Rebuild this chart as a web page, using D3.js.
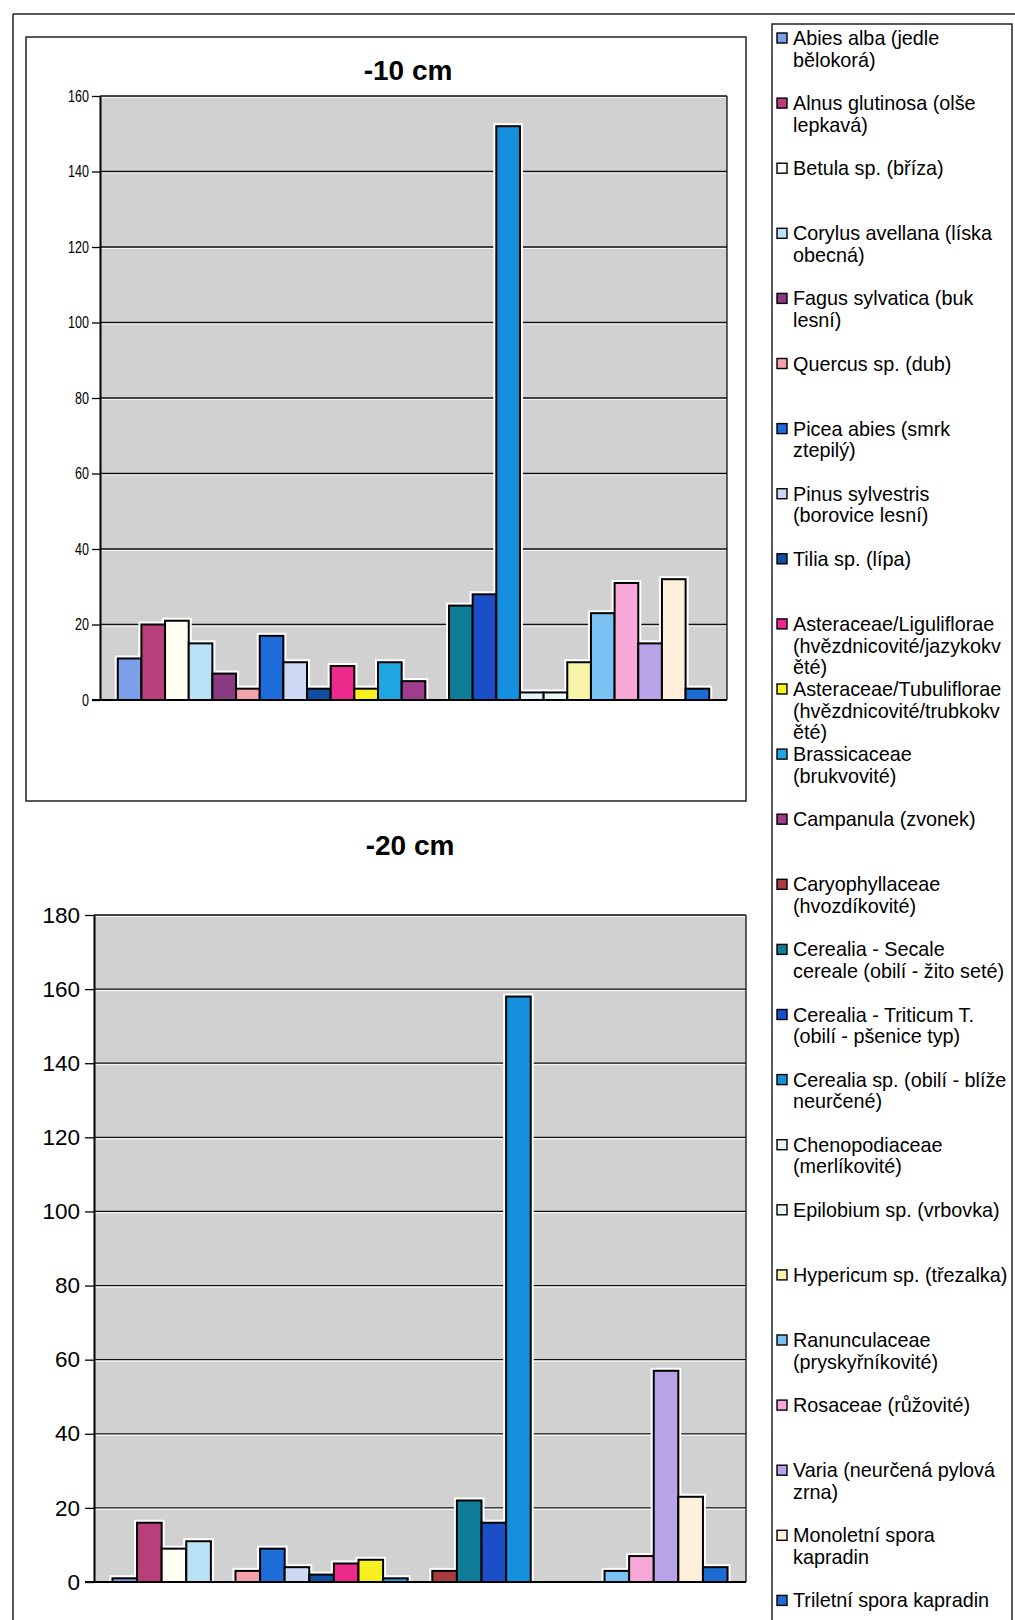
<!DOCTYPE html>
<html><head><meta charset="utf-8">
<script src="https://cdn.jsdelivr.net/npm/d3@7"></script>
<style>
html,body{margin:0;padding:0;background:#fff;}
svg{display:block;}
text{font-family:"Liberation Sans",Arial,sans-serif;}
</style></head>
<body>
<svg id="c" width="1015" height="1620"></svg>
<script>
// ---- data ----
const seriesNames = [
  "Abies alba (jedle\nbělokorá)",
  "Alnus glutinosa (olše\nlepkavá)",
  "Betula sp. (bříza)",
  "Corylus avellana (líska\nobecná)",
  "Fagus sylvatica (buk\nlesní)",
  "Quercus sp. (dub)",
  "Picea abies (smrk\nztepilý)",
  "Pinus sylvestris\n(borovice lesní)",
  "Tilia sp. (lípa)",
  "Asteraceae/Liguliflorae\n(hvězdnicovité/jazykokv\něté)",
  "Asteraceae/Tubuliflorae\n(hvězdnicovité/trubkokv\něté)",
  "Brassicaceae\n(brukvovité)",
  "Campanula (zvonek)",
  "Caryophyllaceae\n(hvozdíkovité)",
  "Cerealia - Secale\ncereale (obilí - žito seté)",
  "Cerealia - Triticum T.\n(obilí - pšenice typ)",
  "Cerealia sp. (obilí - blíže\nneurčené)",
  "Chenopodiaceae\n(merlíkovité)",
  "Epilobium sp. (vrbovka)",
  "Hypericum sp. (třezalka)",
  "Ranunculaceae\n(pryskyřníkovité)",
  "Rosaceae (růžovité)",
  "Varia (neurčená pylová\nzrna)",
  "Monoletní spora\nkapradin",
  "Triletní spora kapradin"
];
const seriesColors = [
  "#7b9fe8","#b8407a","#fffff4","#b8e2f6","#8a3a80","#f4a2aa","#1e6cd8","#ccd8f4",
  "#0f4ea0","#ec2a8c","#f6f020","#1ea6e0","#a03c8c","#a83c3c","#0f7c98","#1a4fc8",
  "#1490dc","#e6f4f8","#eef8f2","#f8f4a8","#7ac2f4","#f8a8d8","#b8a2e8","#fff0dc","#1c6cd4"
];
const values10 = [11,20,21,15,7,3,17,10,3,9,3,10,5,0,25,28,152,2,2,10,23,31,15,32,3];
const values20 = [1,16,9,11,0,3,9,4,2,5,6,1,0,3,22,16,158,0,0,0,3,7,57,23,4];
const ticks10 = [0,20,40,60,80,100,120,140,160];
const ticks20 = [0,20,40,60,80,100,120,140,160,180];
const title10 = "-10 cm";
const title20 = "-20 cm";

const svg = d3.select("#c");

// ---- frames ----
svg.append("line").attr("x1",13).attr("y1",14).attr("x2",1015).attr("y2",14).attr("stroke","#222").attr("stroke-width",1.5);
svg.append("line").attr("x1",13).attr("y1",14).attr("x2",13).attr("y2",1620).attr("stroke","#222").attr("stroke-width",1.5);
svg.append("rect").attr("x",26).attr("y",37).attr("width",720).attr("height",764).attr("fill","none").attr("stroke","#222").attr("stroke-width",1.5);
svg.append("rect").attr("x",772).attr("y",24).attr("width",240).attr("height",1620).attr("fill","#fff").attr("stroke","#222").attr("stroke-width",1.5);

function drawChart(cfg){
  const g = svg.append("g");
  const x = d3.scaleBand().domain(d3.range(seriesNames.length)).range([cfg.left,cfg.right]).paddingInner(0).paddingOuter(0.75);
  const y = d3.scaleLinear().domain([0,d3.max(cfg.ticks)]).range([cfg.bottom,cfg.top]);
  g.append("rect").attr("x",cfg.left).attr("y",cfg.top).attr("width",cfg.right-cfg.left).attr("height",cfg.bottom-cfg.top).attr("fill","#d1d1d1");
  // gridlines
  g.selectAll(".grid").data(cfg.ticks).join("line")
    .attr("x1",cfg.left).attr("x2",cfg.right).attr("y1",d=>y(d)).attr("y2",d=>y(d))
    .attr("stroke","#111").attr("stroke-width",1.3);
  g.selectAll(".gridw").data(cfg.ticks.filter(d=>d>0)).join("line")
    .attr("x1",cfg.left).attr("x2",cfg.right).attr("y1",d=>y(d)+1.5).attr("y2",d=>y(d)+1.5)
    .attr("stroke","#fff").attr("stroke-width",1.2).attr("opacity",0.8);
  g.append("line").attr("x1",cfg.right).attr("x2",cfg.right).attr("y1",cfg.top).attr("y2",cfg.bottom).attr("stroke","#111").attr("stroke-width",1.3);
  // bars
  const data = cfg.values.map((v,i)=>({i,v})).filter(d=>d.v>0);
  g.selectAll(".halo").data(data).join("rect")
    .attr("x",d=>x(d.i)).attr("width",x.bandwidth())
    .attr("y",d=>y(d.v)).attr("height",d=>y(0)-y(d.v))
    .attr("fill","none").attr("stroke","#fff").attr("stroke-width",6);
  g.selectAll(".bar").data(data).join("rect")
    .attr("x",d=>x(d.i)).attr("width",x.bandwidth())
    .attr("y",d=>y(d.v)).attr("height",d=>y(0)-y(d.v))
    .attr("fill",d=>seriesColors[d.i]).attr("stroke","#000").attr("stroke-width",2);
  // axis
  const ax = g.append("g").attr("transform",`translate(${cfg.left},0)`)
    .call(d3.axisLeft(y).tickValues(cfg.ticks).tickSize(cfg.tickSize).tickPadding(cfg.tickPad).tickSizeOuter(0));
  ax.select(".domain").attr("stroke","#000").attr("stroke-width",2);
  ax.selectAll(".tick line").attr("stroke","#000").attr("stroke-width",1.3);
  const tt = ax.selectAll(".tick text").attr("fill","#000").style("font-size",cfg.fontSize+"px")
    .style("font-family",'"Liberation Sans",Arial,sans-serif');
  if (cfg.squeeze !== 1) {
    tt.attr("x", -(cfg.tickSize+cfg.tickPad)/cfg.squeeze).attr("transform",`scale(${cfg.squeeze},1)`);
  }
  g.append("line").attr("x1",cfg.left-cfg.tickSize).attr("x2",cfg.right).attr("y1",y(0)).attr("y2",y(0)).attr("stroke","#000").attr("stroke-width",2);
  g.append("text").attr("x",cfg.titleX).attr("y",cfg.titleY).attr("text-anchor","middle")
    .style("font-size","28px").style("font-weight","bold").attr("fill","#000").text(cfg.title);
}

drawChart({left:100,right:727,top:96,bottom:700,ticks:ticks10,values:values10,
  tickSize:8,tickPad:3,fontSize:16.5,squeeze:0.76,
  title:title10,titleX:408,titleY:80});
drawChart({left:94,right:746,top:915,bottom:1582,ticks:ticks20,values:values20,
  tickSize:9,tickPad:5,fontSize:22.5,squeeze:1,
  title:title20,titleX:410,titleY:855});

// ---- legend ----
const lg = svg.append("g");
const legItems = lg.selectAll(".li").data(seriesNames).join("g")
  .attr("transform",(d,i)=>`translate(0,${45+i*65.1})`);
legItems.append("rect").attr("x",777).attr("y",-12).attr("width",10).attr("height",10)
  .attr("fill",(d,i)=>seriesColors[i]).attr("stroke","#000").attr("stroke-width",1.4);
legItems.each(function(d){
  const t = d3.select(this).append("text").attr("x",793).attr("y",0)
    .style("font-size","19.8px").attr("fill","#000");
  d.split("\n").forEach((ln,k)=>{
    t.append("tspan").attr("x",793).attr("y",k*21.7).text(ln);
  });
});
</script>
</body></html>
